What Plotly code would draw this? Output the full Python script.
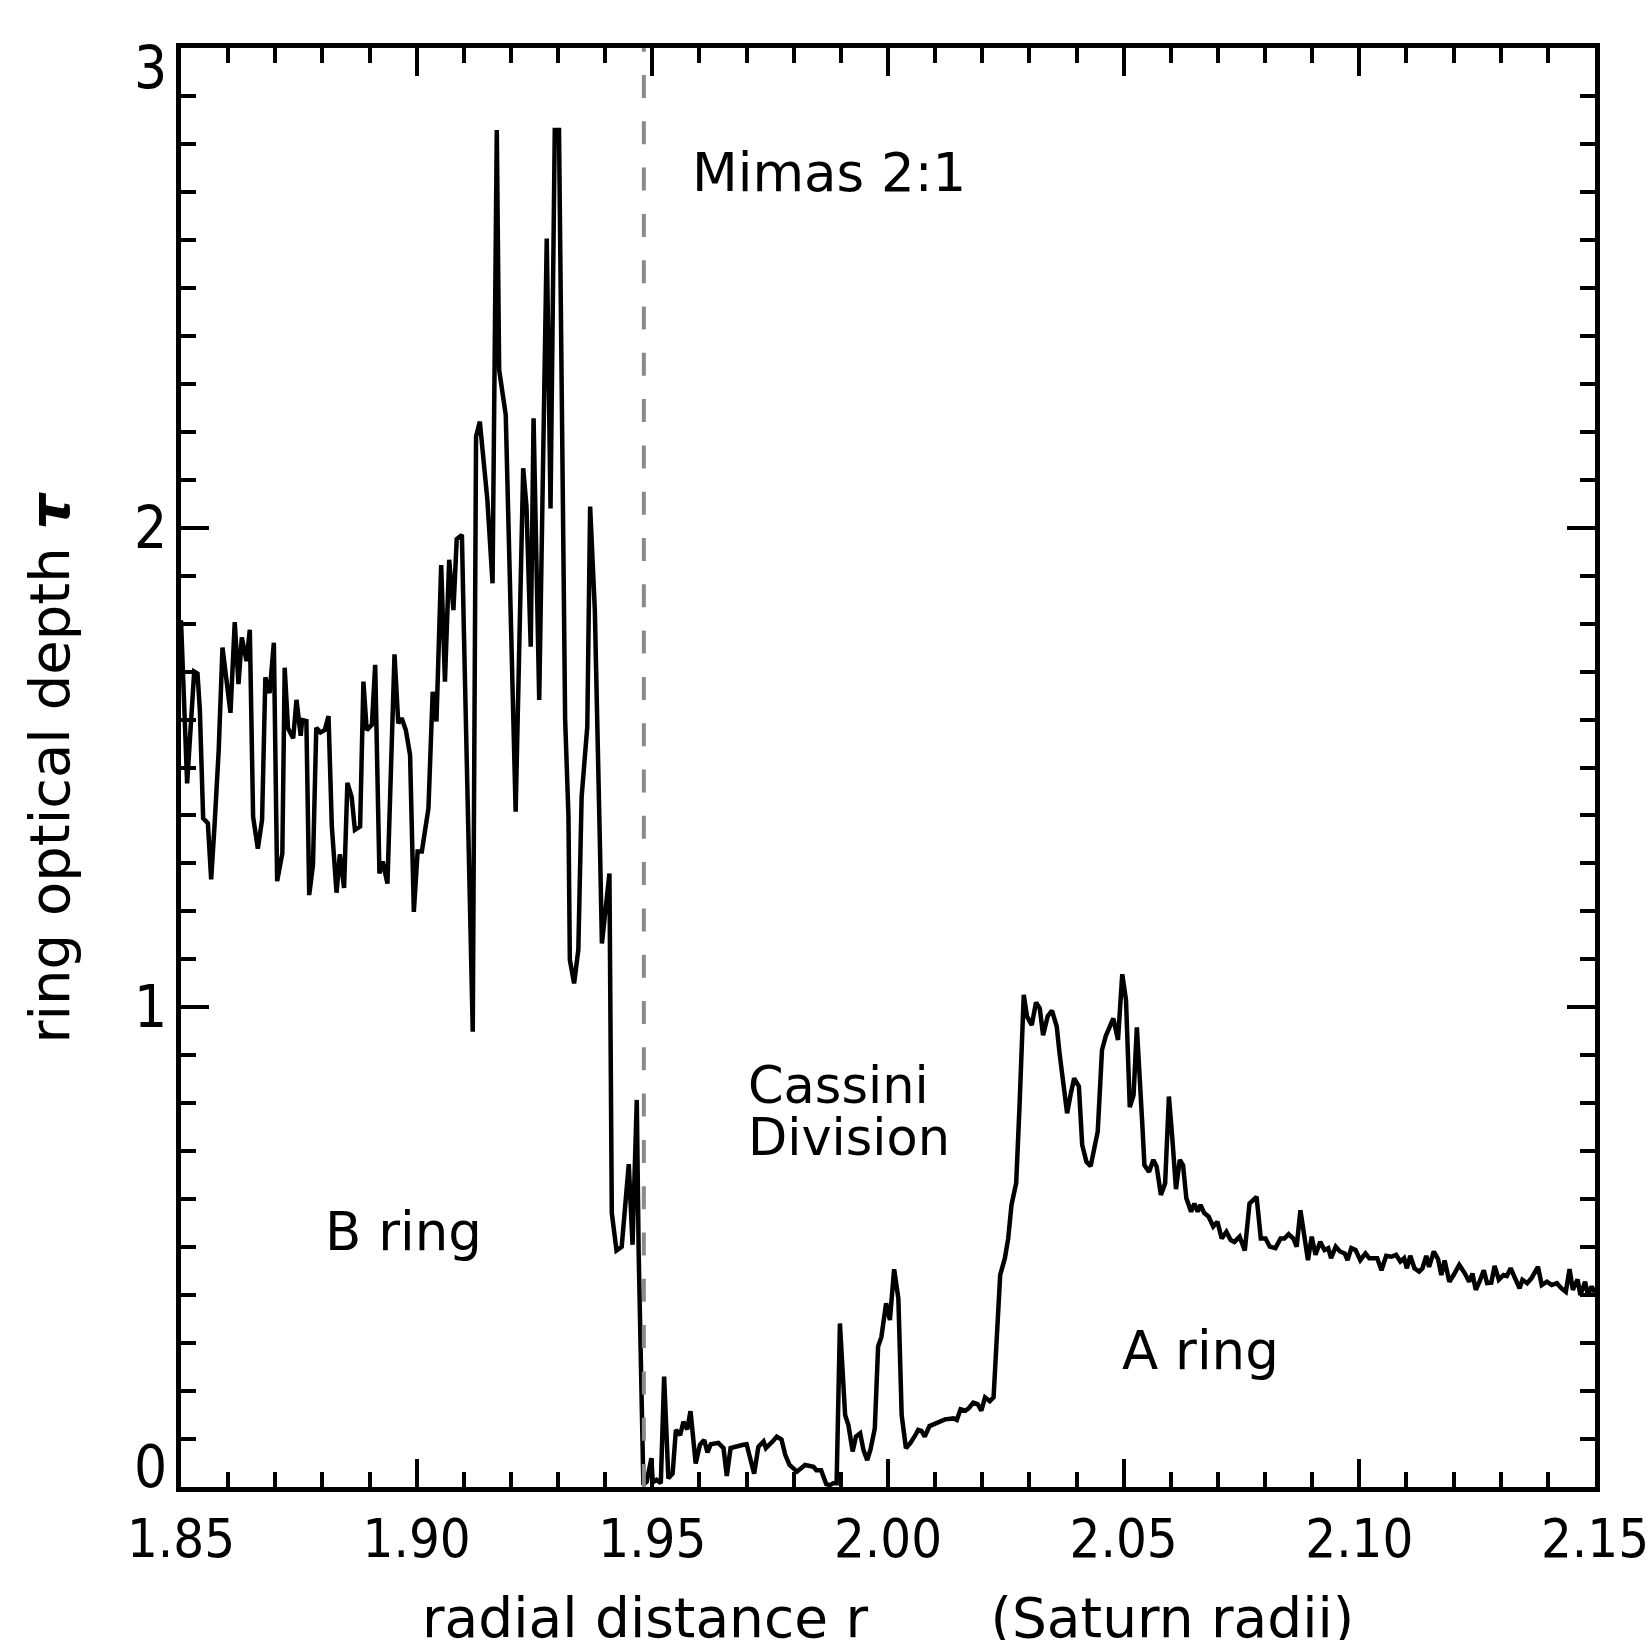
import plotly.graph_objects as go

# ---------------- data ----------------
r_values = [
    1.8500, 1.8513, 1.8528, 1.8535, 1.8540, 1.8547, 1.8557, 1.8564, 1.8571, 1.8580,
    1.8588, 1.8605, 1.8614, 1.8622, 1.8629, 1.8639, 1.8646, 1.8653, 1.8663, 1.8672,
    1.8679, 1.8688, 1.8697, 1.8704, 1.8715, 1.8720, 1.8727, 1.8738, 1.8745, 1.8754,
    1.8757, 1.8766, 1.8772, 1.8780, 1.8787, 1.8796, 1.8805, 1.8813, 1.8820, 1.8830,
    1.8837, 1.8846, 1.8853, 1.8862, 1.8869, 1.8880, 1.8887, 1.8894, 1.8905, 1.8912,
    1.8921, 1.8928, 1.8938, 1.8953, 1.8961, 1.8968, 1.8977, 1.8986, 1.8994, 1.9002,
    1.9011, 1.9025, 1.9034, 1.9042, 1.9052, 1.9060, 1.9069, 1.9078, 1.9085, 1.9096,
    1.9100, 1.9112, 1.9119, 1.9126, 1.9134, 1.9150, 1.9161, 1.9170, 1.9175, 1.9189,
    1.9210, 1.9226, 1.9233, 1.9242, 1.9248, 1.9260, 1.9276, 1.9284, 1.9293, 1.9302,
    1.9315, 1.9322, 1.9325, 1.9334, 1.9343, 1.9350, 1.9362, 1.9368, 1.9378, 1.9389,
    1.9393, 1.9409, 1.9414, 1.9424, 1.9435, 1.9450, 1.9458, 1.9467, 1.9471, 1.9481,
    # Cassini Division
    1.9488, 1.9498, 1.9501, 1.9509, 1.9518, 1.9525, 1.9534, 1.9543, 1.9550, 1.9559,
    1.9566, 1.9574, 1.9581, 1.9592, 1.9601, 1.9610, 1.9617, 1.9624, 1.9640, 1.9651,
    1.9658, 1.9666, 1.9675, 1.9693, 1.9700, 1.9707, 1.9716, 1.9725, 1.9736, 1.9741,
    1.9750, 1.9757, 1.9764, 1.9774, 1.9782, 1.9791, 1.9807, 1.9817, 1.9824, 1.9842,
    1.9848, 1.9858, 1.9869, 1.9877, 1.9884, 1.9891, 1.9898, 1.9909, 1.9916, 1.9925,
    1.9932, 1.9941, 1.9948, 1.9956, 1.9963, 1.9972, 1.9979, 1.9986, 1.9996, 2.0004,
    2.0013, 2.0022, 2.0029, 2.0038, 2.0047, 2.0058, 2.0064, 2.0071, 2.0078, 2.0088,
    2.0096, 2.0110, 2.0121, 2.0139, 2.0146, 2.0154, 2.0164, 2.0171, 2.0181, 2.0190,
    2.0198, 2.0206, 2.0216, 2.0224, 2.0230, 2.0238, 2.0248, 2.0255, 2.0262, 2.0272,
    2.0279,
    # A ring
    2.0288, 2.0295, 2.0305, 2.0314, 2.0322, 2.0329, 2.0339, 2.0348, 2.0358, 2.0364,
    2.0374, 2.0380, 2.0388, 2.0395, 2.0405, 2.0412, 2.0421, 2.0430, 2.0445, 2.0454,
    2.0462, 2.0478, 2.0488, 2.0497, 2.0505, 2.0513, 2.0521, 2.0528, 2.0540, 2.0544,
    2.0554, 2.0563, 2.0570, 2.0579, 2.0588, 2.0596, 2.0603, 2.0611, 2.0619, 2.0626,
    2.0633, 2.0643, 2.0650, 2.0657, 2.0663, 2.0671, 2.0680, 2.0690, 2.0699, 2.0708,
    2.0718, 2.0727, 2.0735, 2.0746, 2.0757, 2.0767, 2.0782, 2.0791, 2.0801, 2.0810,
    2.0822, 2.0833, 2.0841, 2.0850, 2.0860, 2.0867, 2.0875, 2.0883, 2.0891, 2.0899,
    2.0907, 2.0917, 2.0926, 2.0934, 2.0940, 2.0950, 2.0959, 2.0969, 2.0975, 2.0983,
    2.0992, 2.1002, 2.1013, 2.1021, 2.1038, 2.1047, 2.1057, 2.1068, 2.1078, 2.1087,
    2.1095, 2.1101, 2.1108, 2.1117, 2.1127, 2.1134, 2.1142, 2.1148, 2.1158, 2.1167,
    2.1174, 2.1181, 2.1191, 2.1200, 2.1212, 2.1224, 2.1233, 2.1240, 2.1247, 2.1255,
    2.1264, 2.1271, 2.1280, 2.1287, 2.1296, 2.1306, 2.1313, 2.1321, 2.1330, 2.1340,
    2.1346, 2.1356, 2.1365, 2.1372, 2.1379, 2.1387, 2.1398, 2.1408, 2.1419, 2.1429,
    2.1438, 2.1446, 2.1453, 2.1463, 2.1469, 2.1479, 2.1485, 2.1493, 2.1500,
]

tau_values = [
    1.807, 1.467, 1.700, 1.696, 1.620, 1.394, 1.384, 1.267, 1.377, 1.536,
    1.750, 1.614, 1.803, 1.674, 1.771, 1.722, 1.787, 1.397, 1.331, 1.391,
    1.688, 1.655, 1.760, 1.263, 1.321, 1.708, 1.582, 1.561, 1.641, 1.566,
    1.599, 1.597, 1.234, 1.297, 1.583, 1.573, 1.578, 1.607, 1.377, 1.239,
    1.319, 1.249, 1.468, 1.439, 1.370, 1.377, 1.679, 1.578, 1.589, 1.714,
    1.279, 1.304, 1.258, 1.736, 1.592, 1.603, 1.578, 1.526, 1.199, 1.325,
    1.325, 1.415, 1.658, 1.596, 1.922, 1.679, 1.933, 1.828, 1.976, 1.985,
    1.793, 1.238, 0.949, 2.190, 2.221, 2.058, 1.884, 2.829, 2.329, 2.235,
    1.408, 2.124, 2.044, 1.752, 2.228, 1.641, 2.603, 2.040, 2.829, 2.829,
    1.600, 1.400, 1.099, 1.050, 1.120, 1.439, 1.585, 2.044, 1.828, 1.330,
    1.133, 1.279, 0.571, 0.493, 0.501, 0.673, 0.505, 0.807, 0.490, 0.005,
    # Cassini Division
    0.011, 0.060, 0.010, 0.015, 0.008, 0.230, 0.018, 0.028, 0.119, 0.108,
    0.136, 0.120, 0.158, 0.049, 0.088, 0.098, 0.072, 0.089, 0.092, 0.081,
    0.023, 0.081, 0.084, 0.088, 0.089, 0.063, 0.028, 0.084, 0.095, 0.081,
    0.092, 0.097, 0.105, 0.099, 0.067, 0.046, 0.032, 0.042, 0.046, 0.042,
    0.035, 0.035, 0.006, 0.004, 0.008, 0.008, 0.341, 0.150, 0.129, 0.074,
    0.105, 0.112, 0.077, 0.056, 0.079, 0.122, 0.293, 0.313, 0.383, 0.348,
    0.454, 0.393, 0.150, 0.081, 0.091, 0.108, 0.119, 0.117, 0.105, 0.127,
    0.131, 0.136, 0.141, 0.143, 0.140, 0.162, 0.159, 0.164, 0.176, 0.173,
    0.159, 0.187, 0.179, 0.187, 0.293, 0.442, 0.477, 0.518, 0.588, 0.634,
    0.793,
    # A ring
    1.026, 0.981, 0.963, 1.010, 0.998, 0.942, 0.982, 0.993, 0.960, 0.904,
    0.824, 0.779, 0.821, 0.852, 0.835, 0.713, 0.678, 0.669, 0.741, 0.911,
    0.940, 0.977, 0.932, 1.069, 1.015, 0.792, 0.817, 0.958, 0.748, 0.671,
    0.657, 0.682, 0.668, 0.609, 0.633, 0.814, 0.730, 0.621, 0.682, 0.671,
    0.602, 0.574, 0.591, 0.574, 0.588, 0.571, 0.564, 0.543, 0.553, 0.518,
    0.532, 0.515, 0.511, 0.522, 0.493, 0.591, 0.605, 0.518, 0.518, 0.501,
    0.498, 0.518, 0.518, 0.527, 0.518, 0.501, 0.577, 0.529, 0.473, 0.522,
    0.484, 0.511, 0.494, 0.498, 0.477, 0.501, 0.491, 0.487, 0.473, 0.498,
    0.494, 0.473, 0.487, 0.477, 0.477, 0.452, 0.482, 0.480, 0.484, 0.470,
    0.477, 0.456, 0.482, 0.456, 0.449, 0.456, 0.482, 0.459, 0.491, 0.475,
    0.442, 0.472, 0.428, 0.442, 0.463, 0.445, 0.428, 0.445, 0.411, 0.428,
    0.452, 0.425, 0.426, 0.461, 0.432, 0.442, 0.440, 0.456, 0.438, 0.414,
    0.432, 0.425, 0.435, 0.445, 0.459, 0.421, 0.428, 0.421, 0.425, 0.414,
    0.407, 0.454, 0.411, 0.433, 0.400, 0.428, 0.400, 0.418, 0.405,
]

mimas_resonance_r = [1.9482]

x_tick_values = [1.85, 1.90, 1.95, 2.00, 2.05, 2.10, 2.15]
x_tick_labels = ["1.85", "1.90", "1.95", "2.00", "2.05", "2.10", "2.15"]
y_tick_values = [0, 1, 2, 3]
y_tick_labels = ["0", "1", "2", "3"]
y_label_anchor = ["bottom", "middle", "middle", "top"]

label_texts = ["Mimas 2:1", "Cassini", "Division", "B ring", "A ring"]
label_r = [1.9580, 1.9699, 1.9699, 1.8972, 2.0664]
label_tau = [2.740, 0.838, 0.728, 0.532, 0.285]
label_anchor = ["left", "left", "left", "center", "center"]
label_size = [53, 51, 51, 53, 53]

# ---------------- figure ----------------
TEXT_FONT = "DejaVu Sans"
TICK_FONT = "Liberation Sans Narrow, DejaVu Sans Condensed, DejaVu Sans"

fig = go.Figure()
fig.add_trace(go.Scatter(
    x=r_values, y=tau_values, mode="lines",
    line=dict(color="black", width=4.5),
    hoverinfo="skip", showlegend=False,
))

for r0 in mimas_resonance_r:
    fig.add_shape(type="line", xref="x", yref="paper",
                  x0=r0, x1=r0, y0=0, y1=1,
                  line=dict(color="#8a8a8a", width=4, dash="23px,23.3px"),
                  layer="above")

for txt, xr, yt, anc, sz in zip(label_texts, label_r, label_tau,
                                label_anchor, label_size):
    fig.add_annotation(x=xr, y=yt, xref="x", yref="y", text=txt,
                       showarrow=False, xanchor=anc, yanchor="middle",
                       font=dict(family=TEXT_FONT, size=sz, color="black"))

# y tick labels (the end labels sit inside the axis span, as in the original)
for val, txt, anc in zip(y_tick_values, y_tick_labels, y_label_anchor):
    fig.add_annotation(xref="paper", yref="y", x=0, y=val, text=txt,
                       xanchor="right", yanchor=anc, xshift=-12,
                       yshift={"bottom": -16, "top": 16, "middle": 0}[anc],
                       showarrow=False,
                       font=dict(family=TICK_FONT, size=58, color="black"))

# axis titles
fig.add_annotation(xref="paper", yref="paper", x=0.5, y=0,
                   yshift=-131, xanchor="center", yanchor="middle",
                   text="radial distance r" + "\u00a0" * 7 + "(Saturn radii)",
                   showarrow=False,
                   font=dict(family=TEXT_FONT, size=55, color="black"))
fig.add_annotation(xref="paper", yref="paper", x=0, y=0.5,
                   xshift=-132, xanchor="center", yanchor="middle",
                   textangle=-90,
                   text="ring optical depth <b><i>\u03c4</i></b>",
                   showarrow=False,
                   font=dict(family=TEXT_FONT, size=56, color="black"))

axis_common = dict(
    showline=True, linewidth=4.5, linecolor="black", mirror="ticks",
    ticks="inside", tickwidth=3.5, tickcolor="black", ticklen=28,
    showgrid=False, zeroline=False, ticklabelstandoff=0,
    tickfont=dict(family=TICK_FONT, size=54, color="black"),
)

fig.update_xaxes(range=[1.8499999, 2.1500001], tickmode="array",
                 tickvals=x_tick_values, ticktext=x_tick_labels,
                 minor=dict(dtick=0.01, tick0=1.85, ticks="inside",
                            ticklen=15, tickwidth=3.5, tickcolor="black"),
                 **axis_common)
fig.update_yaxes(range=[-0.0000001, 3.0000001], tickmode="array",
                 tickvals=y_tick_values, ticktext=y_tick_labels,
                 showticklabels=False,
                 minor=dict(dtick=0.1, tick0=0, ticks="inside",
                            ticklen=15, tickwidth=3.5, tickcolor="black"),
                 **axis_common)

fig.update_layout(
    width=1652, height=1640,
    margin=dict(l=181, r=57, t=48, b=153, autoexpand=False),
    plot_bgcolor="white", paper_bgcolor="white",
    showlegend=False,
)

# remove the browser's default 8 px page margin so the figure fills the window
fig.write_html("out.html",
               config={"displayModeBar": False},
               post_script="document.body.style.margin='0';"
                           "document.documentElement.style.overflow='hidden';")
